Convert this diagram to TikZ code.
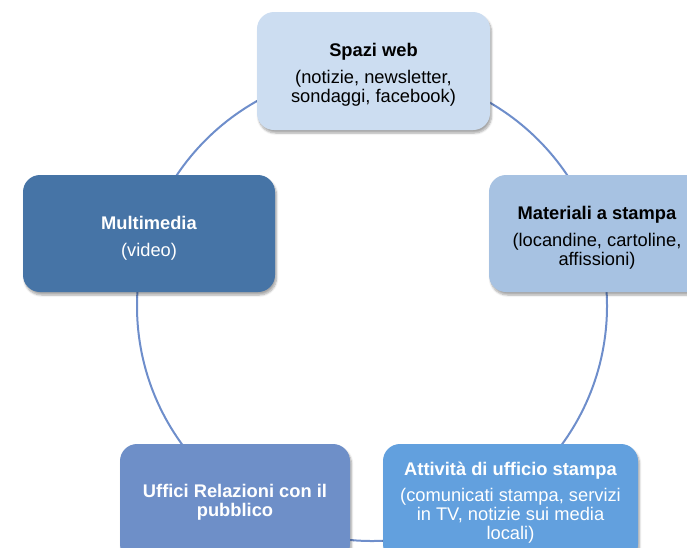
\documentclass[tikz,border=0pt]{standalone}
\usepackage{fontspec}
\setmainfont{Liberation Sans}
\usetikzlibrary{shadows.blur}
\definecolor{cweb}{HTML}{CCDDF1}
\definecolor{cmat}{HTML}{A7C2E2}
\definecolor{cmm}{HTML}{4674A6}
\definecolor{cuff}{HTML}{6E8FC8}
\definecolor{catt}{HTML}{62A0DE}
\definecolor{cring}{HTML}{6E8ECB}
\tikzset{
  box/.style={rounded corners=17pt, inner sep=3pt,
    font=\fontsize{18.3pt}{18.8pt}\selectfont,
    blur shadow={shadow blur steps=6, shadow xshift=1.5pt, shadow yshift=-3pt, shadow opacity=35}},
  ring/.style={draw=cring, line width=2pt}
}
\newcommand{\ttl}[1]{\textbf{#1}\par\vspace{8pt}}
\newcommand{\blk}[3]{\parbox{#1}{\centering\vspace*{#2}#3}}
\begin{document}
\begin{tikzpicture}[x=1pt,y=-1pt]
\useasboundingbox[clip] (0,0) rectangle (687,547);
\coordinate (ctr) at (372,306);
\draw[ring] (ctr) circle[radius=235];
\node[box, fill=cweb, text=black, minimum width=233pt, minimum height=118pt] (web) at (373.5,71)
  {\blk{226pt}{7pt}{\ttl{Spazi web}(notizie, newsletter,\\ sondaggi, facebook)}};
\node[box, fill=cmat, text=black, minimum width=232pt, minimum height=117pt] (mat) at (605,233.5)
  {\hspace*{-16pt}\blk{216pt}{9pt}{\ttl{Materiali a stampa}(locandine, cartoline,\\ affissioni)}};
\node[box, fill=cmm, text=white, minimum width=252pt, minimum height=117pt] (mm) at (149,233.5)
  {\blk{240pt}{10pt}{\ttl{Multimedia}(video)}};
\node[box, fill=cuff, text=white, minimum width=230pt, minimum height=117pt] (uff) at (235,502.5)
  {\blk{224pt}{0pt}{\textbf{Uffici Relazioni con il}\\ \textbf{pubblico}}};
\node[box, fill=catt, text=white, minimum width=255pt, minimum height=117pt] (att) at (510.5,502.5)
  {\blk{249pt}{0pt}{\textbf{Attività di ufficio stampa}\par\vspace{7pt}(comunicati stampa, servizi\\ in TV, notizie sui media\\ locali)}};
\end{tikzpicture}
\end{document}
